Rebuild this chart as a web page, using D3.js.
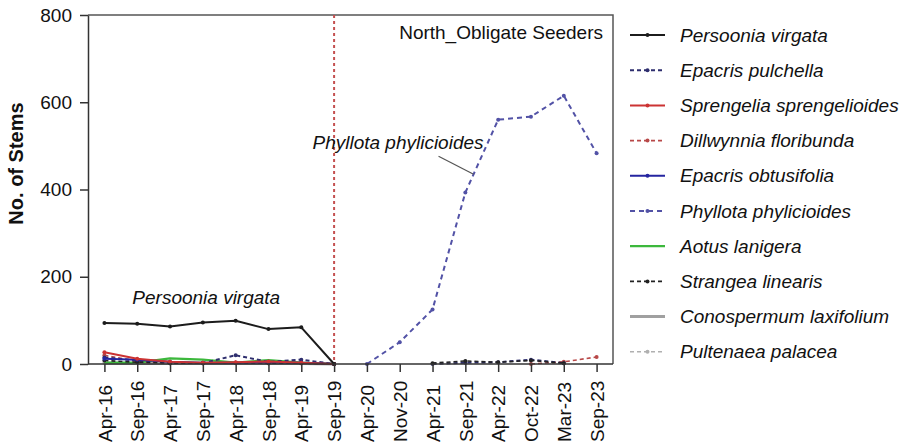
<!DOCTYPE html>
<html>
<head>
<meta charset="utf-8">
<script src="https://cdn.jsdelivr.net/npm/d3@7"></script>
<style>
  html, body { margin: 0; padding: 0; background: #fff; }
  svg { display: block; font-family: "Liberation Sans", Arial, sans-serif; }
</style>
</head>
<body>
<svg id="chart" width="901" height="445"></svg>
<script>
// Survey dates (x categories)
const dates = ["Apr-16","Sep-16","Apr-17","Sep-17","Apr-18","Sep-18","Apr-19","Sep-19",
               "Apr-20","Nov-20","Apr-21","Sep-21","Apr-22","Oct-22","Mar-23","Sep-23"];
const yTicks = [0, 200, 400, 600, 800];
const fireDate = "Sep-19";

// Stem counts per species (null = not recorded)
const persooniaVirgata     = [94, 92, 86, 95, 99, 80, 84, 0, null, null, null, null, null, null, null, null];
const epacrisPulchella     = [15, 8, 3, 2, 20, 5, 10, 0, null, null, 0, 3, 4, 10, 2, null];
const sprengeliaSprengel   = [27, 12, 5, 3, 4, 6, 3, 0, null, null, null, null, null, null, null, null];
const dillwynniaFloribunda = [20, 6, 2, 2, 3, 2, 2, 0, null, null, null, null, null, 0, 5, 16];
const epacrisObtusifolia   = [12, 10, 5, 3, 3, 4, 3, 0, null, null, null, null, null, null, null, null];
const phyllotaPhylicioides = [null, null, null, null, null, null, null, null, 0, 50, 125, 393, 560, 567, 615, 483];
const aotusLanigera        = [3, 3, 13, 10, 3, 9, 3, 0, null, null, null, null, null, null, null, null];
const strangeaLinearis     = [8, 4, 2, 3, 3, 2, 2, 0, null, null, 2, 7, 4, 8, 2, null];
const conospermumLaxifol   = [2, 1, 1, 1, 1, 1, 1, 0, null, null, null, null, null, null, null, null];
const pultenaeaPalacea     = [3, 2, 1, 1, 2, 1, 1, 0, null, null, null, null, null, null, null, null];

const seriesNames = ["Persoonia virgata","Epacris pulchella","Sprengelia sprengelioides","Dillwynnia floribunda",
  "Epacris obtusifolia","Phyllota phylicioides","Aotus lanigera","Strangea linearis",
  "Conospermum laxifolium","Pultenaea palacea"];
const seriesValues = [persooniaVirgata, epacrisPulchella, sprengeliaSprengel, dillwynniaFloribunda,
  epacrisObtusifolia, phyllotaPhylicioides, aotusLanigera, strangeaLinearis, conospermumLaxifol, pultenaeaPalacea];

// Visual style per species
const styles = [
  { color: "#1c1c1c", dash: null,  width: 2,   marker: true },
  { color: "#2e2e6e", dash: "4,3", width: 2,   marker: true },
  { color: "#cc3333", dash: null,  width: 2,   marker: true },
  { color: "#b84848", dash: "4,3", width: 1.6, marker: true },
  { color: "#2525a0", dash: null,  width: 2,   marker: true },
  { color: "#5252a6", dash: "5,4", width: 2,   marker: true },
  { color: "#3cb83c", dash: null,  width: 2.2, marker: false },
  { color: "#222222", dash: "4,3", width: 1.6, marker: true },
  { color: "#a0a0a0", dash: null,  width: 3,   marker: false },
  { color: "#b0b0b0", dash: "4,3", width: 1.6, marker: true }
];

const svg = d3.select("#chart");
const plot = { left: 88, right: 613, top: 15, bottom: 364 };

const x = d3.scalePoint().domain(dates).range([plot.left, plot.right]).padding(0.5);
const y = d3.scaleLinear().domain([0, 800]).range([plot.bottom, plot.top]);

// Frame (top and right edges)
svg.append("path")
  .attr("d", `M${plot.left},${plot.top}H${plot.right}V${plot.bottom}`)
  .attr("fill", "none").attr("stroke", "#555").attr("stroke-width", 1.5);

// Fire event marker
svg.append("line")
  .attr("x1", x(fireDate)).attr("x2", x(fireDate))
  .attr("y1", y(800)).attr("y2", y(0))
  .attr("stroke", "#c45050").attr("stroke-width", 2).attr("stroke-dasharray", "3,3");

// Series lines (drawn back to front so Persoonia sits on top)
const line = d3.line()
  .defined(d => d.v !== null)
  .x(d => x(d.date)).y(d => y(d.v));

const order = [8, 9, 5, 6, 3, 1, 7, 4, 2, 0];
order.forEach(i => {
  const st = styles[i];
  const pts = dates.map((date, k) => ({ date, v: seriesValues[i][k] }));
  svg.append("path")
    .datum(pts)
    .attr("d", line)
    .attr("fill", "none")
    .attr("stroke", st.color)
    .attr("stroke-width", st.width)
    .attr("stroke-dasharray", st.dash)
    .attr("stroke-linejoin", "round");
  if (st.marker) {
    svg.append("g").selectAll("circle")
      .data(pts.filter(d => d.v !== null))
      .join("circle")
      .attr("cx", d => x(d.date)).attr("cy", d => y(d.v))
      .attr("r", 2).attr("fill", st.color);
  }
});

// Y axis
const yAxis = svg.append("g")
  .attr("transform", `translate(${plot.left},0)`)
  .call(d3.axisLeft(y).tickValues(yTicks).tickSize(8).tickPadding(8).tickSizeOuter(0));
yAxis.select(".domain").attr("stroke", "#333").attr("stroke-width", 1.5);
yAxis.selectAll(".tick line").attr("stroke", "#333").attr("stroke-width", 1.5);
yAxis.selectAll(".tick text").attr("font-size", 19).attr("fill", "#111")
  .attr("font-family", "Liberation Sans, Arial, sans-serif");

// X axis
const xAxis = svg.append("g")
  .attr("transform", `translate(0,${plot.bottom})`)
  .call(d3.axisBottom(x).tickSize(8).tickSizeOuter(0));
xAxis.select(".domain").attr("stroke", "#333").attr("stroke-width", 1.5)
  .attr("d", `M${plot.left},0H${plot.right}`);
xAxis.selectAll(".tick line").attr("stroke", "#333").attr("stroke-width", 1.5);
xAxis.selectAll(".tick text")
  .attr("font-size", 19).attr("fill", "#111")
  .attr("font-family", "Liberation Sans, Arial, sans-serif")
  .attr("transform", "rotate(-90)")
  .attr("x", -78).attr("y", 0).attr("dy", "0.35em")
  .style("text-anchor", "start");

// Y axis title
svg.append("text")
  .attr("transform", `translate(23,${(plot.top + plot.bottom) / 2 - 26}) rotate(-90)`)
  .attr("text-anchor", "middle")
  .attr("font-size", 20).attr("font-weight", "bold").attr("fill", "#111")
  .text("No. of Stems");

// Panel title
svg.append("text")
  .attr("x", plot.right - 10).attr("y", plot.top + 24)
  .attr("text-anchor", "end").attr("font-size", 19).attr("fill", "#111")
  .text("North_Obligate Seeders");

// Species annotations
svg.append("text")
  .attr("x", (x("Sep-17") + x("Apr-18")) / 2 - 13).attr("y", y(137))
  .attr("text-anchor", "middle").attr("font-size", 19).attr("font-style", "italic").attr("fill", "#111")
  .text("Persoonia virgata");

const iPh = 5;
const kA = dates.indexOf("Sep-21"), kB = dates.indexOf("Apr-22");
const t = 0.25;
const tipX = x(dates[kA]) + t * (x(dates[kB]) - x(dates[kA]));
const tipY = y(phyllotaPhylicioides[kA] + t * (phyllotaPhylicioides[kB] - phyllotaPhylicioides[kA]));
svg.append("line")
  .attr("x1", tipX - 35).attr("y1", tipY - 18)
  .attr("x2", tipX).attr("y2", tipY)
  .attr("stroke", "#555").attr("stroke-width", 1.2);
svg.append("text")
  .attr("x", tipX + 10).attr("y", tipY - 25)
  .attr("text-anchor", "end").attr("font-size", 19).attr("font-style", "italic").attr("fill", "#111")
  .text(seriesNames[iPh]);

// Legend
const legend = svg.append("g");
seriesNames.forEach((name, i) => {
  const st = styles[i];
  const gy = 35 + i * 35.2;
  const g = legend.append("g").attr("transform", `translate(0,${gy})`);
  g.append("line")
    .attr("x1", 630).attr("x2", 665).attr("y1", 0).attr("y2", 0)
    .attr("stroke", st.color).attr("stroke-width", st.width)
    .attr("stroke-dasharray", st.dash);
  if (st.marker) {
    g.append("circle").attr("cx", 647.5).attr("cy", 0).attr("r", 2).attr("fill", st.color);
  }
  g.append("text")
    .attr("x", 680).attr("y", 0).attr("dy", "0.35em")
    .attr("font-size", 19).attr("font-style", "italic").attr("fill", "#111")
    .text(name);
});
</script>
</body>
</html>
